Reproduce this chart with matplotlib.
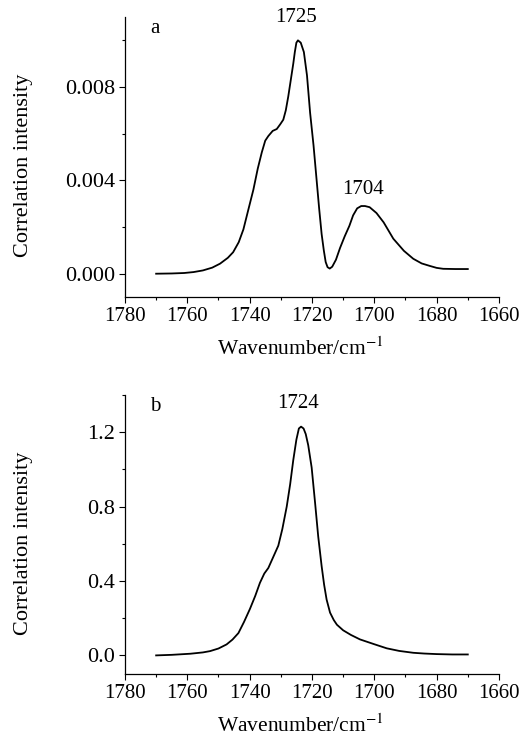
import matplotlib
matplotlib.use("Agg")
import matplotlib.pyplot as plt
from matplotlib.ticker import MultipleLocator

plt.rcParams["font.family"] = ["Liberation Serif", "DejaVu Serif"]
plt.rcParams["mathtext.fontset"] = "stix"

# panel a: wavenumber (cm-1) and correlation intensity
wn_a = [1770, 1765, 1761, 1758, 1755, 1752, 1749.5, 1747, 1745.3, 1743.5, 1742, 1740.5,
        1738.8, 1737.4, 1736.1, 1735, 1734, 1732.6, 1731.3, 1730.2, 1729.2, 1728.4,
        1727.6, 1726.8, 1726, 1725.5, 1725, 1724.5, 1723.6, 1722.6, 1721.6, 1720.6,
        1719.5, 1718.5, 1717.7, 1716.9, 1716.2, 1715.6, 1715, 1714.3, 1713.5, 1712.3,
        1711, 1709.5, 1708, 1706.8, 1705.5, 1704.2, 1703, 1701.5, 1699.3, 1697, 1693.9,
        1690.5, 1687.5, 1684.8, 1682.1, 1680, 1677.9, 1674, 1670]
ci_a = [0.0, 0.00001, 0.00003, 0.00007, 0.00014, 0.00026, 0.00043, 0.00068, 0.00092,
        0.00135, 0.0019, 0.0027, 0.0036, 0.0045, 0.0052, 0.0057, 0.0059, 0.00612,
        0.0062, 0.0064, 0.0066, 0.0070, 0.0076, 0.0083, 0.0090, 0.0095, 0.0099,
        0.0100, 0.0099, 0.0095, 0.0085, 0.0069, 0.0055, 0.0040, 0.0028, 0.0017,
        0.0010, 0.0005, 0.00028, 0.00022, 0.0003, 0.0006, 0.0011, 0.0016, 0.00205,
        0.0025, 0.0028, 0.0029, 0.0029, 0.00285, 0.0026, 0.0022, 0.0015, 0.00098,
        0.00064, 0.00044, 0.00033, 0.00025, 0.00021, 0.0002, 0.0002]

# panel b
wn_b = [1770, 1765, 1759, 1755, 1752.7, 1750, 1747.4, 1745.5, 1743.6, 1741.8, 1739.9,
        1738.2, 1736.7, 1735.3, 1734, 1732.4, 1730.8, 1729.5, 1728.1, 1727, 1726,
        1725, 1724.2, 1723.5, 1722.7, 1722, 1721.2, 1720.1, 1719, 1718, 1716.9,
        1716.1, 1715.3, 1714.2, 1713, 1712, 1710, 1707.5, 1704.6, 1700, 1696, 1692,
        1687.5, 1684, 1680, 1675, 1670]
ci_b = [0.0, 0.003, 0.009, 0.016, 0.023, 0.037, 0.059, 0.085, 0.12, 0.18, 0.25, 0.32,
        0.39, 0.44, 0.47, 0.53, 0.59, 0.68, 0.80, 0.92, 1.05, 1.16, 1.22, 1.23, 1.22,
        1.19, 1.13, 1.01, 0.82, 0.64, 0.48, 0.38, 0.30, 0.23, 0.19, 0.165, 0.135,
        0.11, 0.086, 0.060, 0.038, 0.024, 0.014, 0.010, 0.007, 0.005, 0.005]

panels = [
    dict(wn=wn_a, ci=ci_a, tag="a", ylim=(-0.001, 0.011), major=0.004, minor=0.002,
         fmt="{:.3f}", peaks=[("1725", 1725, 0.01098), ("1704", 1703.6, 0.00362)]),
    dict(wn=wn_b, ci=ci_b, tag="b", ylim=(-0.1, 1.4), major=0.4, minor=0.2,
         fmt="{:.1f}", peaks=[("1724", 1724.5, 1.355)]),
]

fig = plt.figure(figsize=(5.28, 7.40), dpi=100)
rects = [[0.2367, 0.5986, 0.7083, 0.3784], [0.2367, 0.0892, 0.7083, 0.3770]]

for rect, p in zip(rects, panels):
    ax = fig.add_axes(rect)
    ax.plot(p["wn"], p["ci"], color="black", lw=1.3)
    ax.set_xlim(1780, 1660)
    ax.set_ylim(*p["ylim"])
    ax.spines["top"].set_visible(False)
    ax.spines["right"].set_visible(False)
    ax.spines["left"].set_linewidth(0.9)
    ax.spines["bottom"].set_linewidth(0.9)
    ax.xaxis.set_major_locator(MultipleLocator(20))
    ax.xaxis.set_minor_locator(MultipleLocator(10))
    ax.yaxis.set_major_locator(MultipleLocator(p["major"]))
    ax.yaxis.set_minor_locator(MultipleLocator(p["minor"]))
    ticks = [t for t in ax.get_yticks() if p["ylim"][0] < t < p["ylim"][1] - 1e-9]
    ax.set_yticks(ticks)
    ax.set_yticklabels([p["fmt"].format(t) for t in ticks])
    ax.tick_params(which="major", direction="out", length=4, width=0.8, pad=3)
    ax.tick_params(which="minor", direction="out", length=2.2, width=0.8)
    ax.tick_params(axis="x", labelsize=15)
    ax.tick_params(axis="y", labelsize=16)
    ax.set_xlabel("Wavenumber/cm$^{-1}$", fontsize=15.5)
    ax.xaxis.set_label_coords(0.47, -0.145)
    ax.set_ylabel("Correlation intensity", fontsize=16)
    ax.yaxis.set_label_coords(-0.245, 0.47)
    ax.text(0.08, 0.96, p["tag"], transform=ax.transAxes, fontsize=15,
            ha="center", va="center")
    for label, x, y in p["peaks"]:
        ax.text(x, y, label, fontsize=15, ha="center", va="center")

fig.savefig("out.png", dpi=100)
